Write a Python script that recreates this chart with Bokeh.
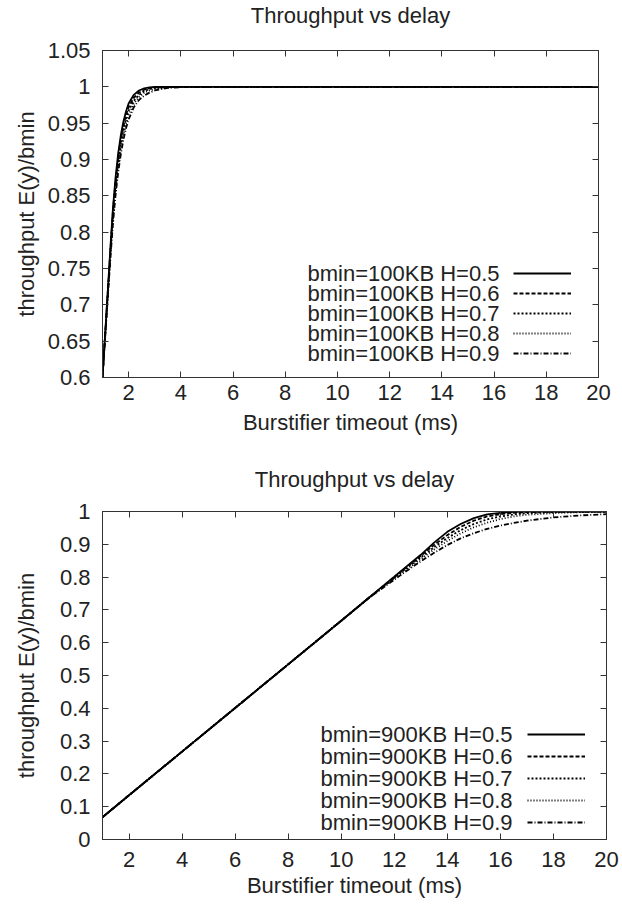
from bokeh.plotting import figure
from bokeh.models import Range1d, FixedTicker, LinearAxis, Legend, LegendItem, Label
from bokeh.layouts import column
from bokeh.embed import file_html
from bokeh.resources import INLINE

# ---------------- data ----------------
chart_title = "Throughput vs delay"
x_title = "Burstifier timeout (ms)"
y_title = "throughput E(y)/bmin"

# top panel (bmin = 100KB)
x_top = [1.0, 1.1, 1.2, 1.3, 1.4, 1.5, 1.6, 1.7, 1.8, 1.9, 2.0, 2.2, 2.4, 2.6, 2.8, 3.0,
         3.5, 4.0, 5.0, 6.0, 8.0, 10.0, 12.0, 14.0, 16.0, 18.0, 20.0]
top_h05 = [0.600, 0.659, 0.718, 0.777, 0.833, 0.875, 0.908, 0.933, 0.952, 0.966, 0.977, 0.989,
           0.995, 0.998, 0.9993, 0.9998, 1.0, 1.0, 1.0, 1.0, 1.0, 1.0, 1.0, 1.0, 1.0, 1.0, 1.0]
top_h06 = [0.600, 0.658, 0.716, 0.774, 0.829, 0.870, 0.902, 0.927, 0.946, 0.961, 0.972, 0.985,
           0.992, 0.996, 0.998, 0.9992, 0.9998, 1.0, 1.0, 1.0, 1.0, 1.0, 1.0, 1.0, 1.0, 1.0, 1.0]
top_h07 = [0.600, 0.657, 0.714, 0.771, 0.825, 0.865, 0.896, 0.921, 0.940, 0.955, 0.967, 0.981,
           0.989, 0.994, 0.997, 0.9985, 0.9996, 1.0, 1.0, 1.0, 1.0, 1.0, 1.0, 1.0, 1.0, 1.0, 1.0]
top_h08 = [0.600, 0.656, 0.712, 0.767, 0.819, 0.858, 0.889, 0.914, 0.934, 0.949, 0.961, 0.977,
           0.986, 0.992, 0.995, 0.997, 0.9993, 0.9999, 1.0, 1.0, 1.0, 1.0, 1.0, 1.0, 1.0, 1.0, 1.0]
top_h09 = [0.600, 0.655, 0.709, 0.762, 0.812, 0.851, 0.882, 0.907, 0.927, 0.943, 0.955, 0.972,
           0.982, 0.988, 0.992, 0.995, 0.9985, 0.9996, 1.0, 1.0, 1.0, 1.0, 1.0, 1.0, 1.0, 1.0, 1.0]
top_labels = ["bmin=100KB H=0.5", "bmin=100KB H=0.6", "bmin=100KB H=0.7",
              "bmin=100KB H=0.8", "bmin=100KB H=0.9"]
top_xticks = [2, 4, 6, 8, 10, 12, 14, 16, 18, 20]
top_yticks = [0.6, 0.65, 0.7, 0.75, 0.8, 0.85, 0.9, 0.95, 1.0, 1.05]
top_ytick_labels = ["0.6", "0.65", "0.7", "0.75", "0.8", "0.85", "0.9", "0.95", "1", "1.05"]

# bottom panel (bmin = 900KB)
x_bot = [1, 2, 4, 6, 8, 10, 11, 11.5, 12, 12.5, 13, 13.5, 14, 14.5, 15, 15.5, 16, 16.5, 17, 18, 19, 20]
bot_h05 = [0.068, 0.135, 0.268, 0.401, 0.534, 0.667, 0.734, 0.768, 0.801, 0.835, 0.868, 0.905,
           0.938, 0.962, 0.980, 0.991, 0.996, 0.999, 1.0, 1.0, 1.0, 1.0]
bot_h06 = [0.068, 0.135, 0.268, 0.401, 0.534, 0.667, 0.734, 0.767, 0.800, 0.833, 0.865, 0.898,
           0.928, 0.953, 0.972, 0.985, 0.992, 0.996, 0.998, 0.9995, 1.0, 1.0]
bot_h07 = [0.068, 0.135, 0.268, 0.401, 0.534, 0.667, 0.734, 0.766, 0.798, 0.830, 0.860, 0.891,
           0.919, 0.943, 0.962, 0.976, 0.985, 0.991, 0.995, 0.998, 0.999, 1.0]
bot_h08 = [0.068, 0.135, 0.268, 0.401, 0.534, 0.667, 0.734, 0.765, 0.796, 0.826, 0.855, 0.884,
           0.910, 0.933, 0.952, 0.966, 0.977, 0.985, 0.990, 0.995, 0.998, 0.999]
bot_h09 = [0.068, 0.135, 0.268, 0.401, 0.534, 0.667, 0.734, 0.763, 0.792, 0.821, 0.848, 0.874,
           0.898, 0.918, 0.934, 0.947, 0.957, 0.965, 0.972, 0.982, 0.988, 0.992]
bot_labels = ["bmin=900KB H=0.5", "bmin=900KB H=0.6", "bmin=900KB H=0.7",
              "bmin=900KB H=0.8", "bmin=900KB H=0.9"]
bot_xticks = [2, 4, 6, 8, 10, 12, 14, 16, 18, 20]
bot_yticks = [0.0, 0.1, 0.2, 0.3, 0.4, 0.5, 0.6, 0.7, 0.8, 0.9, 1.0]
bot_ytick_labels = ["0", "0.1", "0.2", "0.3", "0.4", "0.5", "0.6", "0.7", "0.8", "0.9", "1"]

# ---------------- style ----------------
FONT = "Liberation Sans"
FS = "22px"
TXT = "#222222"
FRAME = "#333333"
DASHES = ["solid", "4 2", "2 2", "1 2", "5 2 1 2"]
LEFT = 102


def make_panel(xs, series, labels, xticks, yticks, ytick_labels, yr, width, height,
               mb_top, mb_bottom, mb_right, ylab_standoff, xtick_standoff, xlab_standoff,
               title_lh, leg_x, leg_y, row_h, text_right):
    p = figure(width=width, height=height, output_backend="svg", toolbar_location=None,
               x_range=Range1d(1, 20), y_range=Range1d(*yr),
               min_border_left=LEFT, min_border_right=mb_right,
               min_border_top=mb_top, min_border_bottom=mb_bottom)
    p.xgrid.visible = False
    p.ygrid.visible = False
    p.outline_line_color = FRAME
    p.outline_line_width = 1
    p.background_fill_color = "white"
    p.border_fill_color = "white"

    # title with a blank second line, to keep a gap above the frame like the original
    p.title.text = chart_title + "\n "
    p.title.align = "center"
    p.title.text_font = FONT
    p.title.text_font_size = FS
    p.title.text_font_style = "normal"
    p.title.text_color = TXT
    p.title.text_line_height = title_lh
    p.title.standoff = 0

    renderers = []
    for ys, dash in zip(series, DASHES):
        r = p.line(xs, ys, line_color="black", line_width=1.8, line_dash=dash)
        renderers.append(r)

    # main axes
    xa = p.xaxis[0]
    ya = p.yaxis[0]
    xa.ticker = FixedTicker(ticks=xticks)
    ya.ticker = FixedTicker(ticks=yticks)
    ya.major_label_overrides = {t: s for t, s in zip(yticks, ytick_labels)}
    xa.axis_label = x_title
    ya.axis_label = y_title
    for ax in (xa, ya):
        ax.major_tick_in = 6
        ax.major_tick_out = 0
        ax.minor_tick_line_color = None
        ax.axis_line_color = FRAME
        ax.major_tick_line_color = FRAME
        ax.major_label_text_font = FONT
        ax.major_label_text_font_size = FS
        ax.major_label_text_color = TXT
        ax.axis_label_text_font = FONT
        ax.axis_label_text_font_size = FS
        ax.axis_label_text_font_style = "normal"
        ax.axis_label_text_color = TXT
    xa.major_label_standoff = xtick_standoff
    xa.axis_label_standoff = xlab_standoff
    ya.major_label_standoff = 12
    ya.axis_label_standoff = ylab_standoff

    # mirrored tick axes (gnuplot style), without labels
    for place, ticks in (("above", xticks), ("right", yticks)):
        m = LinearAxis(ticker=FixedTicker(ticks=ticks), major_label_text_font_size="1px",
                       major_label_text_color=None,
                       major_tick_in=6, major_tick_out=0, minor_tick_line_color=None,
                       axis_line_color=FRAME, major_tick_line_color=FRAME,
                       major_label_standoff=0)
        p.add_layout(m, place)

    # legend: sample lines on the right, text right-aligned on the left
    items = [LegendItem(label=" ", renderers=[r]) for r in renderers]
    leg = Legend(items=items, location=(leg_x, leg_y), glyph_width=58, glyph_height=row_h,
                 label_width=0, label_height=0, label_standoff=0, label_text_font_size="1px",
                 label_text_color=None,
                 spacing=0, padding=0, margin=0, border_line_color=None,
                 background_fill_alpha=0)
    p.add_layout(leg)
    n = len(labels)
    for i, lab in enumerate(labels):
        y = leg_y + (n - i - 0.5) * row_h
        p.add_layout(Label(x=text_right, y=y, x_units="screen", y_units="screen", text=lab,
                           text_align="right", text_baseline="middle",
                           text_font=FONT, text_font_size=FS, text_color=TXT))
    return p


p1 = make_panel(x_top, [top_h05, top_h06, top_h07, top_h08, top_h09], top_labels,
                top_xticks, top_yticks, top_ytick_labels, (0.6, 1.05),
                width=614, height=448, mb_top=49, mb_bottom=71, mb_right=16,
                ylab_standoff=6, xtick_standoff=7, xlab_standoff=7, title_lh=0.92,
                leg_x=411, leg_y=14, row_h=20, text_right=397)

p2 = make_panel(x_bot, [bot_h05, bot_h06, bot_h07, bot_h08, bot_h09], bot_labels,
                bot_xticks, bot_yticks, bot_ytick_labels, (0.0, 1.0),
                width=622, height=455, mb_top=63, mb_bottom=64, mb_right=11,
                ylab_standoff=18, xtick_standoff=12, xlab_standoff=3, title_lh=0.8,
                leg_x=425, leg_y=6, row_h=22, text_right=410)

layout = column(p1, p2)
open("out.html", "w").write(file_html(layout, INLINE))
